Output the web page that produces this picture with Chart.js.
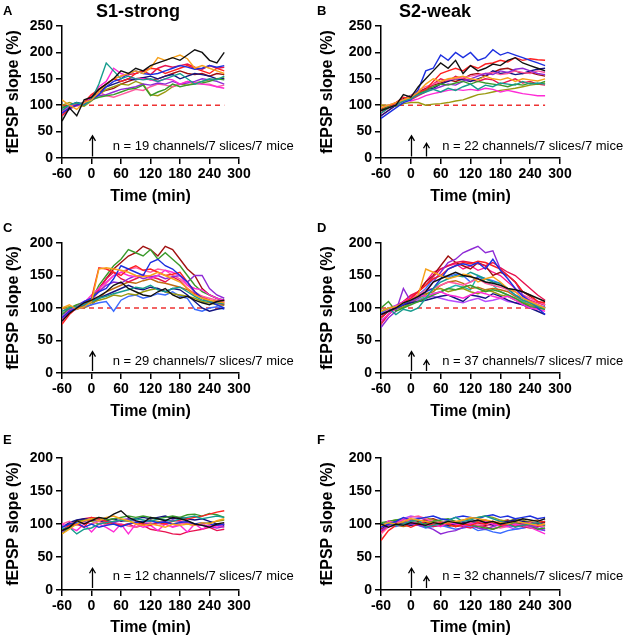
<!DOCTYPE html>
<html>
<head>
<meta charset="utf-8">
<script src="https://cdn.jsdelivr.net/npm/chart.js@4.4.1/dist/chart.umd.min.js"></script>
<style>
  body { margin: 0; background: #fff; }
  #fig { position: relative; width: 628px; height: 639px; overflow: hidden; }
  canvas { position: absolute; }
</style>
</head>
<body>
<div id="fig">
  <canvas id="pA" width="314" height="219" style="left:0;top:0"></canvas>
  <canvas id="pB" width="314" height="219" style="left:314px;top:0"></canvas>
  <canvas id="pC" width="314" height="219" style="left:0;top:210px"></canvas>
  <canvas id="pD" width="314" height="219" style="left:314px;top:210px"></canvas>
  <canvas id="pE" width="314" height="219" style="left:0;top:420px"></canvas>
  <canvas id="pF" width="314" height="219" style="left:314px;top:420px"></canvas>
</div>
<script>
// sample times (min) shared by every trace
var minutes = [-60, -45, -30, -15, 0, 15, 30, 45, 60, 75, 90, 105, 120, 135, 150, 165, 180, 195, 210, 225, 240, 255, 270];
var xTicks = [-60, 0, 60, 120, 180, 240, 300];
var yTicksTall = [0, 50, 100, 150, 200, 250];
var yTicksShort = [0, 50, 100, 150, 200];
var baselineLevel = 100;
var baselineSpan = [-60, 270];

var lineColors = ['#111111', '#f7a21b', '#169c8e', '#1c2fe0', '#ff2020', '#ff2bd6', '#3a9a2a', '#8e2ad6',
  '#ff5aa0', '#141480', '#9a9a10', '#e8124f', '#a01010', '#3a6bff', '#c06a10', '#b64bff', '#21b5b0', '#ff1a8c'];

// A: S1-strong
var tracesA = [
  [70, 95, 80, 110, 115, 130, 140, 150, 165, 160, 170, 165, 175, 180, 185, 190, 185, 195, 205, 200, 185, 180, 200],
  [110, 100, 92, 105, 110, 125, 140, 150, 155, 160, 165, 160, 170, 190, 185, 190, 195, 188, 170, 175, 170, 165, 160],
  [90, 100, 105, 100, 110, 140, 180, 165, 150, 155, 150, 148, 150, 145, 150, 155, 160, 150, 140, 145, 150, 148, 155],
  [85, 95, 100, 105, 110, 120, 135, 145, 150, 160, 165, 160, 158, 160, 165, 170, 175, 172, 168, 170, 175, 172, 175],
  [80, 95, 100, 105, 120, 130, 140, 150, 145, 150, 160, 165, 170, 168, 160, 165, 170, 175, 170, 165, 160, 170, 165],
  [85, 100, 100, 105, 115, 135, 145, 170, 160, 155, 150, 150, 148, 145, 150, 148, 140, 145, 142, 140, 138, 135, 132],
  [95, 100, 102, 105, 110, 115, 118, 120, 125, 130, 132, 138, 118, 125, 130, 140, 135, 138, 140, 142, 145, 150, 148],
  [80, 92, 100, 103, 110, 118, 120, 125, 130, 132, 135, 140, 138, 142, 140, 145, 140, 142, 145, 150, 148, 145, 140],
  [90, 100, 98, 105, 120, 125, 118, 115, 120, 125, 130, 128, 135, 140, 138, 135, 140, 145, 142, 140, 140, 135, 138],
  [95, 100, 105, 102, 112, 125, 135, 140, 145, 150, 148, 152, 155, 150, 155, 158, 150, 155, 160, 158, 155, 150, 150],
  [100, 105, 100, 98, 108, 120, 130, 135, 140, 138, 145, 140, 120, 118, 125, 135, 140, 138, 142, 145, 148, 150, 152],
  [85, 100, 102, 100, 115, 130, 140, 150, 155, 158, 160, 165, 158, 170, 175, 172, 175, 178, 172, 168, 175, 170, 172],
  [90, 98, 100, 104, 112, 125, 128, 132, 140, 145, 150, 152, 148, 150, 155, 160, 165, 160, 158, 160, 155, 160, 158]
];

// B: S2-weak
var tracesB = [
  [90, 95, 100, 120, 115, 135, 150, 165, 180, 170, 185, 160, 175, 165, 170, 178, 175, 185, 190, 180, 175, 170, 165],
  [95, 100, 105, 110, 115, 125, 140, 150, 145, 150, 152, 155, 150, 148, 155, 150, 148, 152, 145, 150, 148, 146, 150],
  [85, 95, 100, 108, 112, 120, 125, 130, 125, 132, 128, 135, 140, 130, 138, 135, 142, 140, 138, 145, 140, 142, 140],
  [75, 85, 95, 105, 110, 130, 165, 170, 195, 185, 200, 190, 200, 185, 190, 205, 195, 200, 195, 190, 185, 180, 175],
  [85, 95, 105, 115, 112, 125, 130, 145, 160, 165, 170, 165, 175, 170, 178, 180, 185, 182, 190, 185, 188, 186, 185],
  [95, 100, 105, 110, 108, 112, 118, 122, 125, 128, 130, 128, 130, 128, 132, 130, 125, 128, 125, 122, 120, 118, 118],
  [90, 98, 105, 110, 115, 122, 128, 135, 140, 138, 142, 145, 140, 145, 142, 140, 138, 135, 140, 138, 142, 140, 145],
  [90, 95, 100, 108, 115, 120, 128, 130, 135, 140, 138, 145, 150, 155, 160, 158, 165, 162, 168, 170, 165, 160, 158],
  [88, 95, 102, 110, 118, 128, 135, 140, 145, 148, 150, 152, 155, 158, 160, 162, 158, 160, 165, 162, 160, 165, 162],
  [80, 90, 100, 112, 118, 125, 130, 132, 140, 145, 150, 148, 145, 150, 155, 165, 160, 162, 158, 160, 165, 168, 170],
  [100, 100, 98, 103, 105, 105, 100, 102, 103, 105, 108, 110, 115, 120, 122, 125, 128, 130, 132, 135, 138, 140, 142],
  [80, 90, 100, 108, 110, 118, 125, 140, 150, 145, 155, 150, 148, 145, 150, 148, 140, 145, 150, 142, 145, 140, 138],
  [92, 98, 104, 112, 118, 125, 132, 138, 142, 148, 145, 150, 158, 160, 155, 162, 168, 170, 165, 160, 162, 158, 155]
];

// C: S1 transient
var tracesC = [
  [80, 92, 100, 108, 112, 118, 125, 135, 140, 130, 125, 120, 118, 125, 130, 120, 115, 118, 112, 108, 105, 110, 112],
  [100, 105, 98, 102, 110, 160, 162, 160, 158, 155, 150, 148, 150, 155, 150, 145, 140, 130, 120, 115, 112, 110, 108],
  [95, 100, 102, 105, 110, 115, 118, 122, 125, 128, 132, 130, 135, 128, 125, 130, 132, 125, 118, 112, 110, 108, 106],
  [85, 95, 100, 110, 115, 125, 130, 145, 165, 160, 155, 150, 170, 175, 165, 160, 150, 140, 125, 115, 110, 105, 100],
  [75, 90, 100, 105, 115, 162, 160, 155, 150, 160, 165, 158, 160, 155, 150, 152, 155, 140, 125, 115, 110, 108, 105],
  [80, 95, 102, 108, 120, 130, 140, 150, 155, 150, 148, 152, 145, 150, 158, 155, 150, 135, 130, 128, 120, 115, 112],
  [90, 100, 105, 108, 112, 135, 150, 165, 175, 190, 185, 180, 190, 175, 185, 175, 165, 150, 135, 125, 120, 115, 112],
  [90, 98, 104, 110, 115, 125, 135, 140, 138, 145, 150, 145, 148, 150, 145, 148, 150, 140, 150, 150, 130, 120, 115],
  [85, 98, 100, 106, 112, 125, 138, 150, 155, 160, 162, 158, 155, 160, 158, 150, 145, 135, 125, 118, 115, 112, 110],
  [85, 95, 100, 105, 110, 115, 120, 125, 130, 135, 130, 128, 132, 130, 125, 130, 128, 120, 110, 100, 95, 98, 100],
  [100, 102, 100, 104, 108, 112, 115, 120, 118, 122, 120, 125, 128, 130, 125, 122, 120, 118, 115, 110, 108, 105, 104],
  [80, 96, 102, 106, 114, 128, 145, 155, 145, 140, 145, 150, 148, 145, 140, 148, 142, 130, 122, 118, 112, 110, 108],
  [80, 95, 100, 105, 110, 130, 145, 160, 170, 180, 185, 195, 190, 180, 195, 190, 175, 160, 150, 130, 120, 115, 110],
  [90, 95, 98, 102, 105, 108, 110, 95, 112, 118, 120, 115, 118, 122, 120, 125, 118, 115, 98, 95, 100, 102, 98],
  [95, 100, 103, 100, 105, 115, 125, 130, 135, 140, 138, 142, 145, 140, 138, 135, 132, 128, 120, 115, 112, 110, 106]
];

// D: S2 transient
var tracesD = [
  [90, 95, 100, 108, 112, 118, 125, 140, 145, 150, 155, 150, 148, 145, 140, 138, 135, 130, 128, 125, 120, 115, 110],
  [95, 100, 102, 108, 112, 120, 160, 155, 150, 145, 148, 152, 150, 140, 145, 148, 140, 130, 125, 115, 110, 105, 100],
  [95, 100, 90, 98, 95, 100, 115, 130, 140, 145, 150, 148, 155, 150, 145, 140, 138, 130, 120, 112, 108, 102, 100],
  [90, 95, 100, 105, 112, 118, 125, 130, 145, 160, 165, 168, 165, 170, 160, 175, 158, 145, 130, 118, 110, 100, 90],
  [85, 95, 100, 108, 115, 125, 135, 145, 150, 160, 165, 170, 168, 172, 170, 165, 160, 150, 140, 125, 120, 110, 108],
  [80, 90, 100, 110, 115, 120, 118, 122, 125, 120, 118, 115, 120, 125, 122, 118, 115, 118, 112, 105, 100, 98, 95],
  [100, 110, 95, 100, 105, 110, 115, 120, 125, 130, 128, 132, 135, 130, 125, 128, 125, 120, 115, 108, 102, 100, 98],
  [70, 85, 95, 130, 110, 115, 125, 140, 155, 170, 175, 185, 190, 195, 185, 188, 160, 150, 140, 120, 110, 105, 100],
  [88, 98, 102, 108, 115, 120, 128, 130, 135, 140, 138, 135, 140, 145, 138, 135, 132, 128, 125, 120, 115, 110, 105],
  [85, 95, 100, 105, 108, 110, 112, 115, 118, 120, 115, 110, 120, 118, 115, 122, 118, 112, 108, 105, 100, 95, 90],
  [95, 100, 98, 102, 108, 115, 120, 128, 130, 125, 128, 130, 125, 122, 128, 125, 120, 118, 112, 108, 105, 102, 100],
  [75, 90, 100, 110, 120, 125, 135, 148, 160, 165, 170, 172, 170, 168, 165, 170, 162, 155, 150, 140, 130, 120, 112],
  [80, 90, 100, 105, 115, 125, 140, 150, 165, 180, 170, 165, 160, 170, 165, 150, 155, 150, 140, 125, 118, 110, 105],
  [92, 100, 100, 106, 112, 120, 130, 145, 150, 148, 152, 150, 140, 148, 145, 142, 138, 128, 120, 115, 108, 104, 102],
  [85, 95, 100, 104, 110, 118, 122, 125, 135, 140, 142, 138, 130, 132, 128, 130, 128, 125, 118, 112, 108, 104, 100],
  [90, 100, 104, 105, 110, 112, 115, 118, 115, 112, 110, 108, 112, 115, 110, 112, 115, 110, 108, 105, 102, 100, 100],
  [95, 98, 102, 100, 108, 112, 118, 122, 125, 130, 135, 132, 128, 150, 140, 135, 125, 120, 115, 110, 105, 100, 98],
  [90, 98, 104, 110, 118, 125, 140, 155, 160, 165, 168, 160, 165, 158, 162, 155, 150, 140, 130, 118, 112, 108, 104]
];

// E: S1 control
var tracesE = [
  [90, 95, 105, 100, 105, 110, 108, 115, 120, 110, 105, 102, 110, 108, 105, 110, 108, 105, 100, 98, 95, 100, 102],
  [85, 92, 100, 105, 108, 105, 110, 112, 108, 105, 100, 98, 100, 98, 95, 100, 98, 100, 98, 102, 100, 105, 108],
  [92, 95, 85, 92, 94, 100, 102, 104, 106, 105, 108, 106, 104, 108, 106, 104, 108, 110, 112, 108, 110, 112, 110],
  [95, 100, 102, 95, 100, 95, 98, 100, 96, 100, 102, 104, 105, 102, 103, 100, 102, 104, 100, 102, 100, 98, 100],
  [90, 98, 100, 95, 110, 108, 104, 100, 98, 100, 102, 100, 98, 102, 100, 104, 106, 108, 110, 112, 115, 118, 120],
  [100, 95, 90, 100, 88, 100, 95, 88, 100, 85, 100, 95, 98, 90, 100, 95, 98, 88, 100, 92, 98, 95, 100],
  [85, 95, 100, 105, 108, 110, 106, 108, 110, 112, 110, 112, 110, 108, 110, 112, 110, 114, 115, 112, 116, 114, 110],
  [88, 96, 100, 104, 106, 108, 104, 102, 106, 108, 104, 102, 100, 102, 104, 106, 104, 102, 100, 98, 96, 94, 96],
  [100, 104, 98, 102, 100, 104, 98, 102, 100, 97, 95, 100, 102, 98, 100, 96, 100, 102, 98, 100, 96, 98, 95],
  [95, 102, 106, 108, 106, 104, 105, 108, 104, 106, 108, 110, 108, 110, 112, 108, 110, 108, 106, 108, 104, 100, 98],
  [90, 98, 104, 106, 104, 100, 102, 104, 106, 104, 102, 104, 106, 104, 102, 100, 102, 100, 98, 100, 102, 104, 106],
  [90, 100, 105, 108, 110, 105, 100, 102, 98, 100, 95, 98, 92, 90, 88, 85, 84, 88, 90, 92, 95, 90, 92]
];

// F: S2 control
var tracesF = [
  [100, 95, 100, 98, 102, 100, 98, 102, 100, 104, 102, 100, 104, 106, 102, 104, 100, 102, 104, 108, 106, 104, 108],
  [98, 102, 100, 104, 108, 106, 104, 102, 100, 102, 104, 106, 110, 108, 106, 104, 102, 100, 104, 102, 100, 98, 100],
  [100, 102, 98, 100, 104, 106, 95, 98, 100, 105, 110, 104, 106, 110, 112, 108, 104, 100, 95, 98, 100, 102, 98],
  [95, 100, 104, 110, 106, 108, 110, 112, 108, 106, 110, 112, 110, 108, 112, 114, 110, 112, 108, 110, 112, 108, 110],
  [75, 90, 98, 100, 95, 100, 104, 98, 102, 100, 96, 100, 98, 102, 100, 104, 98, 100, 96, 98, 100, 102, 104],
  [95, 105, 100, 108, 104, 100, 98, 100, 96, 102, 100, 98, 100, 102, 104, 100, 98, 96, 100, 98, 95, 90, 85],
  [102, 104, 106, 108, 104, 102, 100, 104, 106, 108, 104, 100, 98, 96, 94, 92, 96, 100, 102, 98, 95, 92, 94],
  [90, 98, 102, 104, 100, 98, 96, 92, 85, 88, 90, 95, 98, 94, 92, 96, 100, 98, 96, 100, 98, 94, 90],
  [85, 96, 102, 106, 110, 112, 108, 104, 102, 106, 104, 100, 102, 98, 100, 96, 94, 96, 98, 100, 102, 98, 96],
  [96, 98, 102, 100, 98, 100, 102, 104, 100, 98, 100, 102, 104, 102, 100, 98, 102, 104, 106, 104, 102, 100, 104],
  [100, 104, 106, 102, 104, 108, 110, 106, 104, 100, 102, 106, 108, 110, 112, 110, 106, 104, 108, 106, 102, 100, 98],
  [88, 96, 100, 104, 102, 98, 100, 96, 98, 102, 100, 96, 94, 98, 96, 92, 96, 98, 100, 96, 94, 96, 98],
  [92, 100, 104, 102, 100, 104, 106, 108, 104, 100, 96, 98, 100, 102, 98, 100, 104, 106, 102, 100, 98, 100, 102],
  [100, 98, 96, 100, 102, 98, 94, 96, 98, 95, 92, 94, 96, 90, 92, 88, 86, 90, 92, 94, 96, 92, 90],
  [98, 100, 98, 96, 98, 100, 102, 100, 98, 96, 98, 100, 102, 104, 106, 102, 100, 98, 100, 102, 104, 106, 102],
  [90, 100, 104, 108, 112, 110, 106, 102, 98, 100, 102, 104, 100, 96, 98, 100, 98, 96, 92, 94, 96, 98, 92]
];

// stimulus arrows: [time, from, to] in axis units
var arrowsTopLeft = [[0, 3, 42]];
var arrowsTopRight = [[0, 3, 42], [30, 3, 28]];
var arrowsMidLeft = [[0, 3, 33]];
var arrowsMidRight = [[0, 3, 33], [30, 3, 20]];
var arrowsLowLeft = [[0, 3, 33]];
var arrowsLowRight = [[0, 3, 33], [30, 3, 21]];

var FONT = '"Liberation Sans", Arial, Helvetica, sans-serif';
Chart.defaults.font.family = FONT;
Chart.defaults.color = '#000';

var decor = {
  id: 'decor',
  afterDraw: function (chart, args, o) {
    var c = chart.ctx, xs = chart.scales.x, ys = chart.scales.y;
    c.save();
    c.fillStyle = '#000';
    c.strokeStyle = '#000';
    c.textBaseline = 'middle';
    c.textAlign = 'left';
    c.font = 'bold 13px ' + FONT;
    c.fillText(o.letter, 3, o.letterY);
    if (o.title) {
      c.font = 'bold 18px ' + FONT;
      c.textAlign = 'center';
      c.fillText(o.title, o.titleX, 12);
    }
    c.textAlign = 'left';
    c.font = '13px ' + FONT;
    c.fillText(o.note, xs.getPixelForValue(o.noteAt[0]), ys.getPixelForValue(o.noteAt[1]));
    c.lineWidth = 1.3;
    o.arrows.forEach(function (a) {
      var x = Math.round(xs.getPixelForValue(a[0])) + 0.5;
      var y0 = ys.getPixelForValue(a[1]), y1 = ys.getPixelForValue(a[2]);
      c.beginPath();
      c.moveTo(x, y0); c.lineTo(x, y1);
      c.moveTo(x - 3, y1 + 5); c.lineTo(x, y1); c.lineTo(x + 3, y1 + 5);
      c.stroke();
    });
    c.restore();
  }
};

function drawPanel(id, traces, yTicks, box, deco, withBaseline) {
  var canvas = document.getElementById(id);
  var W = canvas.width, H = canvas.height;
  var sets = traces.map(function (vals, i) {
    return {
      data: vals.map(function (v, j) { return { x: minutes[j], y: v }; }),
      borderColor: lineColors[i % lineColors.length],
      borderWidth: 1.4,
      pointRadius: 0,
      fill: false
    };
  });
  if (withBaseline) {
    sets.push({
      data: baselineSpan.map(function (t) { return { x: t, y: baselineLevel }; }),
      borderColor: '#ee3333',
      borderDash: [5, 4],
      borderWidth: 1.6,
      pointRadius: 0,
      fill: false
    });
  }
  var axisGrid = { drawOnChartArea: false, color: '#000', lineWidth: 1.5, tickLength: 6 };
  var axisBorder = { color: '#000', width: 1.5 };
  new Chart(canvas.getContext('2d'), {
    type: 'line',
    data: { datasets: sets },
    options: {
      responsive: false,
      animation: false,
      layout: { padding: { left: 0, top: box.top, right: W - box.right, bottom: H - box.titleY - 9.6 } },
      plugins: { legend: { display: false }, tooltip: { enabled: false }, decor: deco },
      scales: {
        x: {
          type: 'linear', min: xTicks[0], max: xTicks[xTicks.length - 1],
          afterBuildTicks: function (s) { s.ticks = xTicks.map(function (v) { return { value: v }; }); },
          afterFit: function (s) { s.height = box.titleY + 9.6 - box.bottom; },
          border: axisBorder, grid: axisGrid,
          ticks: { color: '#000', font: { size: 14, weight: 'bold' }, padding: 2, maxRotation: 0, autoSkip: false },
          title: { display: true, text: 'Time (min)', color: '#000', font: { size: 16, weight: 'bold' }, padding: 0 }
        },
        y: {
          min: yTicks[0], max: yTicks[yTicks.length - 1],
          afterBuildTicks: function (s) { s.ticks = yTicks.map(function (v) { return { value: v }; }); },
          afterFit: function (s) { s.width = box.left; },
          border: axisBorder, grid: axisGrid,
          ticks: { color: '#000', font: { size: 14, weight: 'bold' }, padding: 3 },
          title: { display: true, text: 'fEPSP slope (%)', color: '#000', font: { size: 16, weight: 'bold' }, padding: { top: 3.5, bottom: 0 } }
        }
      }
    },
    plugins: [decor]
  });
}

drawPanel('pA', tracesA, yTicksTall, { left: 62, right: 239, top: 26, bottom: 158, titleY: 197 },
  { letter: 'A', letterY: 11, title: 'S1-strong', titleX: 138, note: 'n = 19 channels/7 slices/7 mice', noteAt: [43, 21], arrows: arrowsTopLeft }, true);
drawPanel('pB', tracesB, yTicksTall, { left: 67, right: 246, top: 26, bottom: 158, titleY: 197 },
  { letter: 'B', letterY: 11, title: 'S2-weak', titleX: 121, note: 'n = 22 channels/7 slices/7 mice', noteAt: [63, 21], arrows: arrowsTopRight }, true);
drawPanel('pC', tracesC, yTicksShort, { left: 62, right: 239, top: 33, bottom: 163, titleY: 202 },
  { letter: 'C', letterY: 18, note: 'n = 29 channels/7 slices/7 mice', noteAt: [43, 18], arrows: arrowsMidLeft }, true);
drawPanel('pD', tracesD, yTicksShort, { left: 67, right: 246, top: 33, bottom: 163, titleY: 202 },
  { letter: 'D', letterY: 18, note: 'n = 37 channels/7 slices/7 mice', noteAt: [63, 18], arrows: arrowsMidRight }, true);
drawPanel('pE', tracesE, yTicksShort, { left: 62, right: 239, top: 38, bottom: 170, titleY: 208 },
  { letter: 'E', letterY: 20, note: 'n = 12 channels/7 slices/7 mice', noteAt: [43, 21], arrows: arrowsLowLeft }, false);
drawPanel('pF', tracesF, yTicksShort, { left: 67, right: 246, top: 38, bottom: 170, titleY: 208 },
  { letter: 'F', letterY: 20, note: 'n = 32 channels/7 slices/7 mice', noteAt: [63, 21], arrows: arrowsLowRight }, false);
</script>
</body>
</html>
